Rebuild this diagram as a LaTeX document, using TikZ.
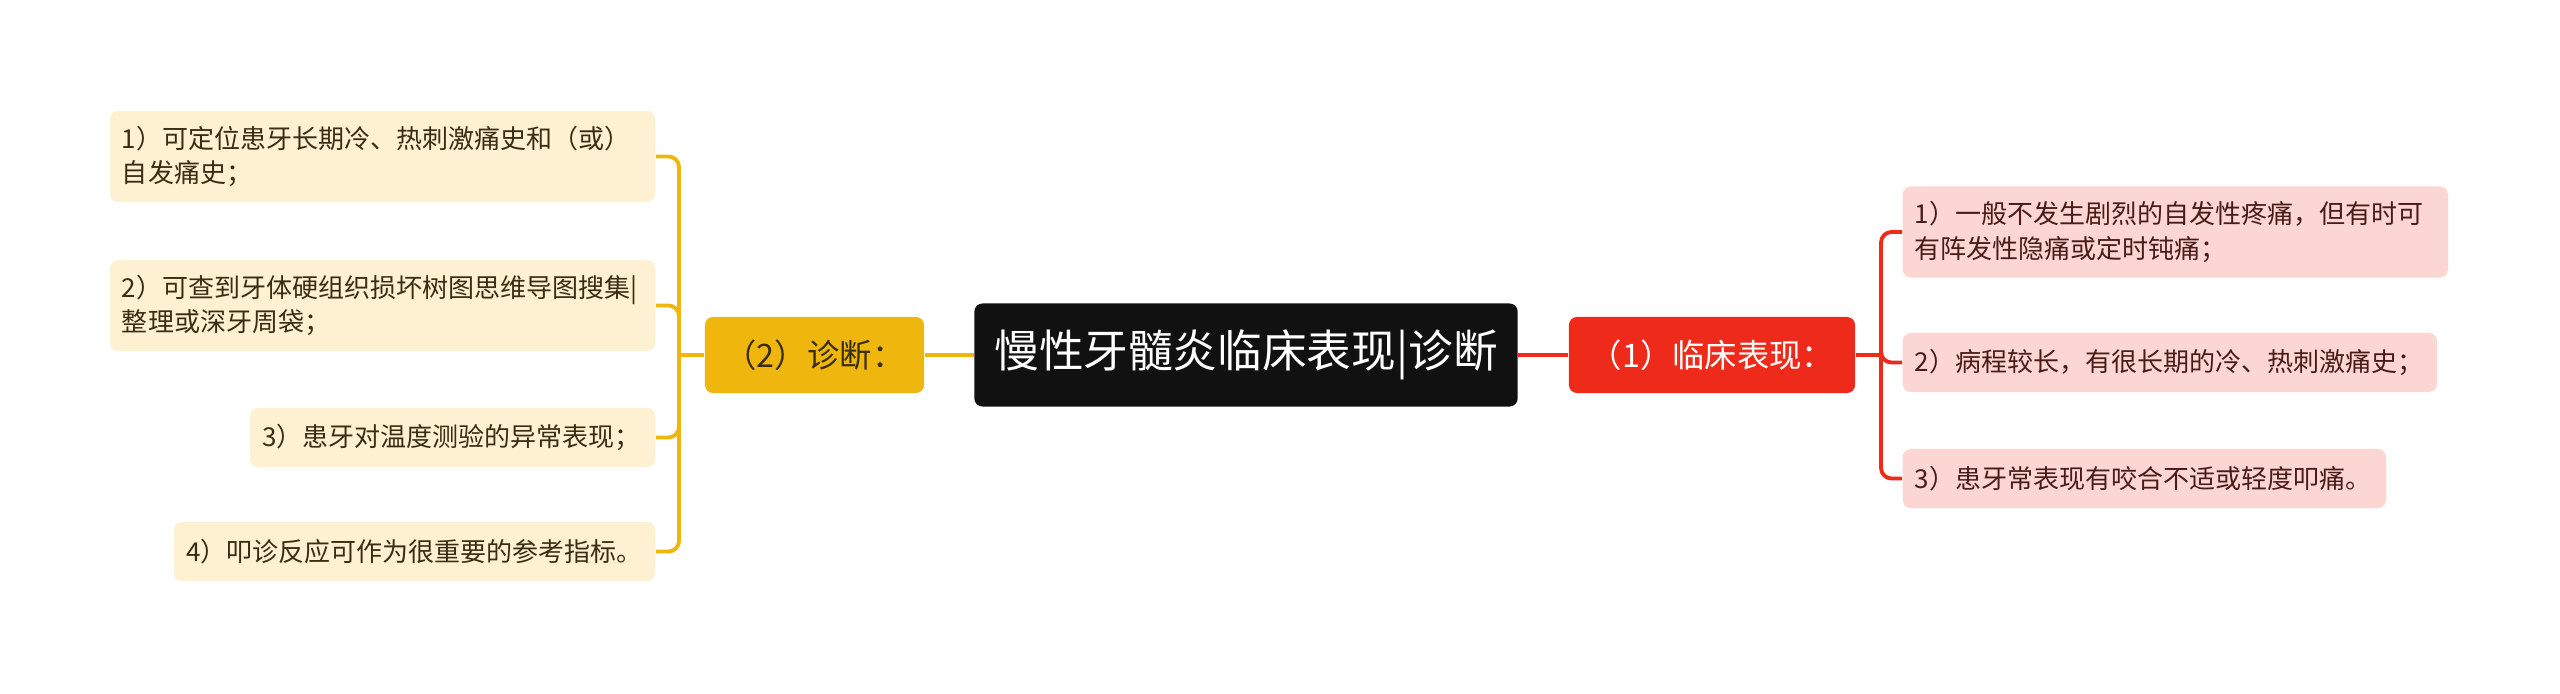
\documentclass[tikz,border=0pt]{standalone}
\usepackage{fontspec}
\setmainfont{Noto Sans CJK SC}
\usepackage{tikz}
\usepackage{xcolor}
\definecolor{rootbg}{HTML}{111111}
\definecolor{diagbg}{HTML}{EFB70E}
\definecolor{diagleaf}{HTML}{FDF1D1}
\definecolor{diagtext}{HTML}{3A2E12}
\definecolor{clinbg}{HTML}{EE2B1B}
\definecolor{clinleaf}{HTML}{FCD6D3}
\definecolor{clintext}{HTML}{4A1C17}
\newcommand{\leaffont}{\fontsize{7.4}{9.7}\selectfont}

\begin{document}
\begin{tikzpicture}[x=0.01cm,y=-0.01cm,
	rootbox/.style={fill=rootbg,text=white,rounded corners=2.3pt,inner xsep=0pt,minimum width=5.43cm,minimum height=1.03cm,font=\fontsize{12.7}{15}\selectfont},
	diagbox/.style={fill=diagbg,text=diagtext,rounded corners=2.3pt,minimum width=2.19cm,minimum height=0.76cm,font=\fontsize{9.2}{11}\selectfont},
	clinbox/.style={fill=clinbg,text=white,rounded corners=2.3pt,minimum width=2.86cm,minimum height=0.76cm,font=\fontsize{9.2}{11}\selectfont},
	dleaf/.style={fill=diagleaf,text=diagtext,rounded corners=2.3pt,align=left,inner xsep=0.12cm,anchor=east,font=\leaffont},
	cleaf/.style={fill=clinleaf,text=clintext,rounded corners=2.3pt,align=left,inner xsep=0.12cm,anchor=west,font=\leaffont},
	dline/.style={draw=diagbg,line width=1.1pt,rounded corners=3pt},
	cline/.style={draw=clinbg,line width=1.1pt,rounded corners=3pt}]

\useasboundingbox (0,0) rectangle (2560,694);

% centre and the two branches
\node[rootbox] (root) at (1246,355) {慢性牙髓炎临床表现|诊断};
\node[diagbox] (diag) at (814.5,355) {（2）诊断：};
\node[clinbox] (clin) at (1712,355) {（1）临床表现：};

% left leaves
\node[dleaf,text width=5.21cm,minimum height=0.91cm] (d1) at (656,156.5) {1）可定位患牙长期冷、热刺激痛史和（或）\\自发痛史；};
\node[dleaf,text width=5.21cm,minimum height=0.91cm] (d2) at (656,305.5) {2）可查到牙体硬组织损坏树图思维导图搜集|\\整理或深牙周袋；};
\node[dleaf,text width=3.81cm,minimum height=0.59cm] (d3) at (656,437.5) {3）患牙对温度测验的异常表现；};
\node[dleaf,text width=4.57cm,minimum height=0.59cm] (d4) at (656,551.5) {4）叩诊反应可作为很重要的参考指标。};

% right leaves
\node[cleaf,text width=5.21cm,minimum height=0.91cm] (c1) at (1902,232) {1）一般不发生剧烈的自发性疼痛，但有时可\\有阵发性隐痛或定时钝痛；};
\node[cleaf,text width=5.10cm,minimum height=0.59cm] (c2) at (1902,362.5) {2）病程较长，有很长期的冷、热刺激痛史；};
\node[cleaf,text width=4.59cm,minimum height=0.59cm] (c3) at (1902,478.5) {3）患牙常表现有咬合不适或轻度叩痛。};

\coordinate (dj) at (679,355);
\coordinate (cj) at (1881,355);

\draw[dline] (root.west) -- (diag.east);
\draw[dline] (diag.west) -- (dj);
\foreach \n in {d1,d2,d3,d4}
	\draw[dline] (dj) |- (\n.east);

\draw[cline] (root.east) -- (clin.west);
\draw[cline] (clin.east) -- (cj);
\foreach \n in {c1,c2,c3}
	\draw[cline] (cj) |- (\n.west);

\end{tikzpicture}
\end{document}
